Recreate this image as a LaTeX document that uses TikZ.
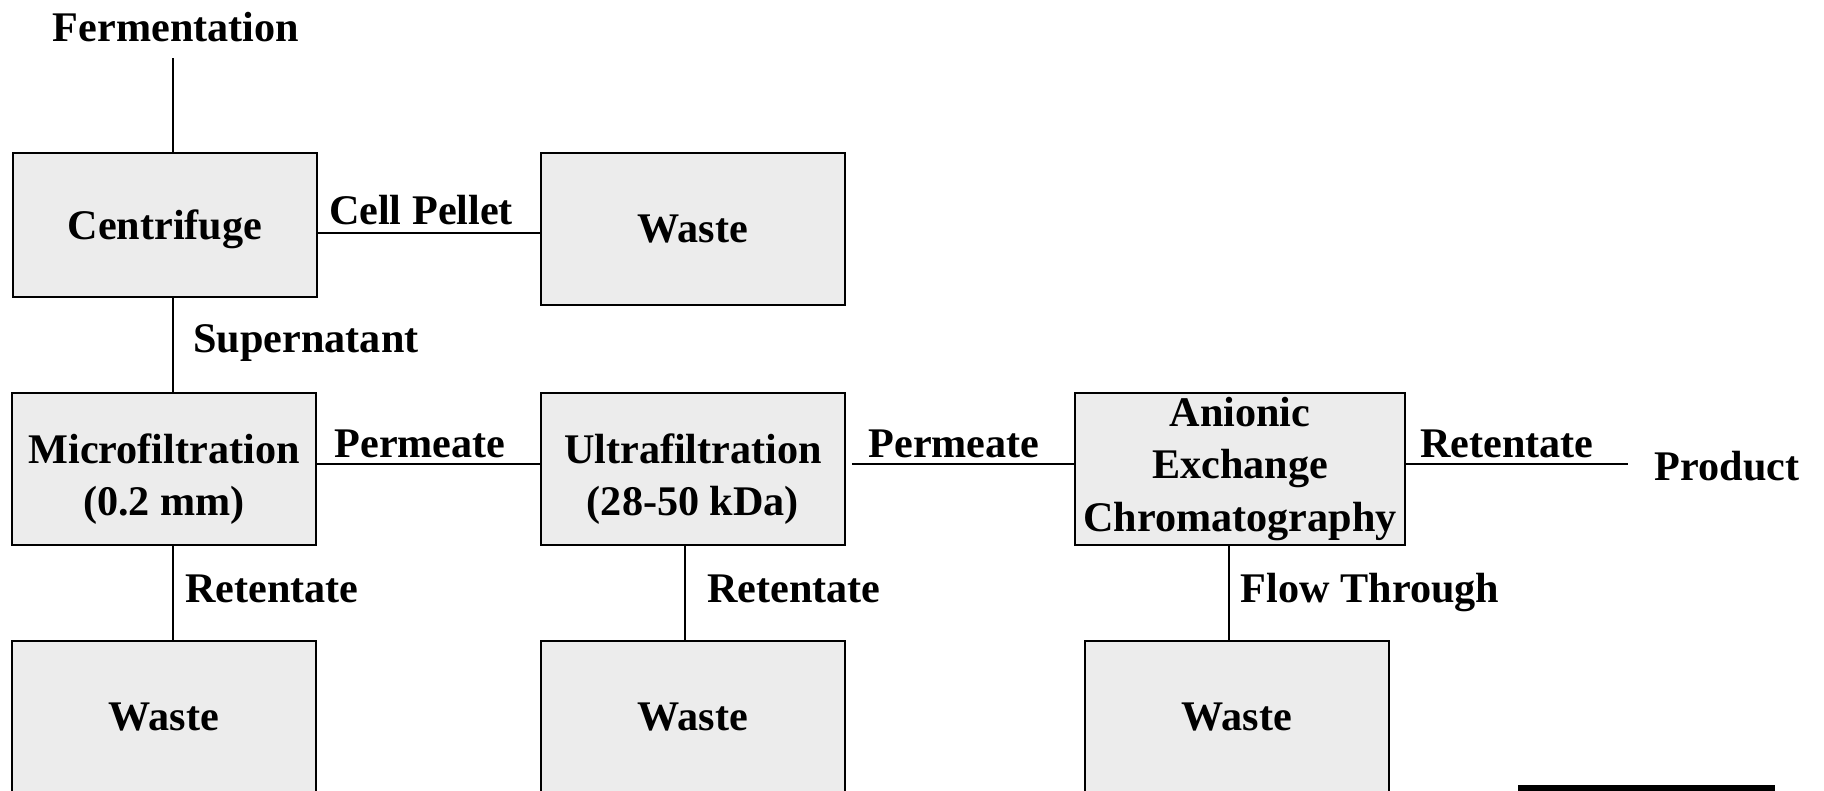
\documentclass[tikz,border=0pt]{standalone}
\usepackage{fontspec}
\setmainfont{Liberation Serif}
\usepackage{xcolor}
\usepackage{tikz}
\definecolor{boxgray}{RGB}{236,236,236}
\tikzset{unit/.style = {draw, fill=boxgray, line width=0.5pt, align=center,
  inner sep=0pt, minimum width=3.04cm, minimum height=1.52cm},
  lbl/.style = {anchor=base},
  link/.style = {line width=0.4pt}}

\begin{document}
\begin{tikzpicture}[x=0.01cm, y=-0.01cm, every node/.style={font=\fontsize{12}{14.8}\selectfont\bfseries}]
  \useasboundingbox (0,0) rectangle (1824,791);
  \node[unit, minimum height=1.44cm] (Cent) at (165,225) {\rule{0pt}{0.39cm}Centrifuge};
  \node[unit] (W0) at (693,229) {Waste};
  \node[unit] (Micro) at (164,469) {\rule{0pt}{0.49cm}Microfiltration\\(0.2 mm)};
  \node[unit] (Ultra) at (693,469) {\rule{0pt}{0.49cm}Ultrafiltration\\(28-50 kDa)};
  \node[unit, minimum width=3.3cm] (Anion) at (1240,469) {Anionic\\Exchange\\Chromatography};
  \node[unit] (W1) at (164,717) {Waste};
  \node[unit] (W2) at (693,717) {Waste};
  \node[unit] (W3) at (1237,717) {Waste};
  \node[lbl, inner ysep=0.15cm] (Ferm) at (176,42) {Fermentation};
  \node[lbl] (Pell) at (421,225) {Cell Pellet};
  \node[lbl] (Sup) at (306,353) {Supernatant};
  \node[lbl] (Perm1) at (420,457) {Permeate};
  \node[lbl] (Perm2) at (954,457) {Permeate};
  \node[lbl] (Ret3) at (1507,457) {Retentate};
  \node[lbl, inner xsep=0.26cm] (Prod) at (1727,480) {Product};
  \node[lbl] (Ret1) at (272,602) {Retentate};
  \node[lbl] (Ret2) at (794,602) {Retentate};
  \node[lbl] (Flow) at (1370,602) {Flow Through};
  \draw[link] (Ferm.south -| 173,0) -- (Cent.north -| 173,0);
  \draw[link] (Cent.east |- 0,233) -- (W0.west |- 0,233);
  \draw[link] (Cent.south -| 173,0) -- (Micro.north -| 173,0);
  \draw[link] (Micro.east |- 0,464) -- (Ultra.west |- 0,464);
  \draw[link, shorten <=0.06cm] (Ultra.east |- 0,464) -- (Anion.west |- 0,464);
  \draw[link] (Anion.east |- 0,464) -- (Prod.west |- 0,464);
  \draw[link] (Micro.south -| 173,0) -- (W1.north -| 173,0);
  \draw[link] (Ultra.south -| 685,0) -- (W2.north -| 685,0);
  \draw[link] (Anion.south -| 1229,0) -- (W3.north -| 1229,0);
  \fill (1518,785) rectangle (1775,791);
\end{tikzpicture}
\end{document}
